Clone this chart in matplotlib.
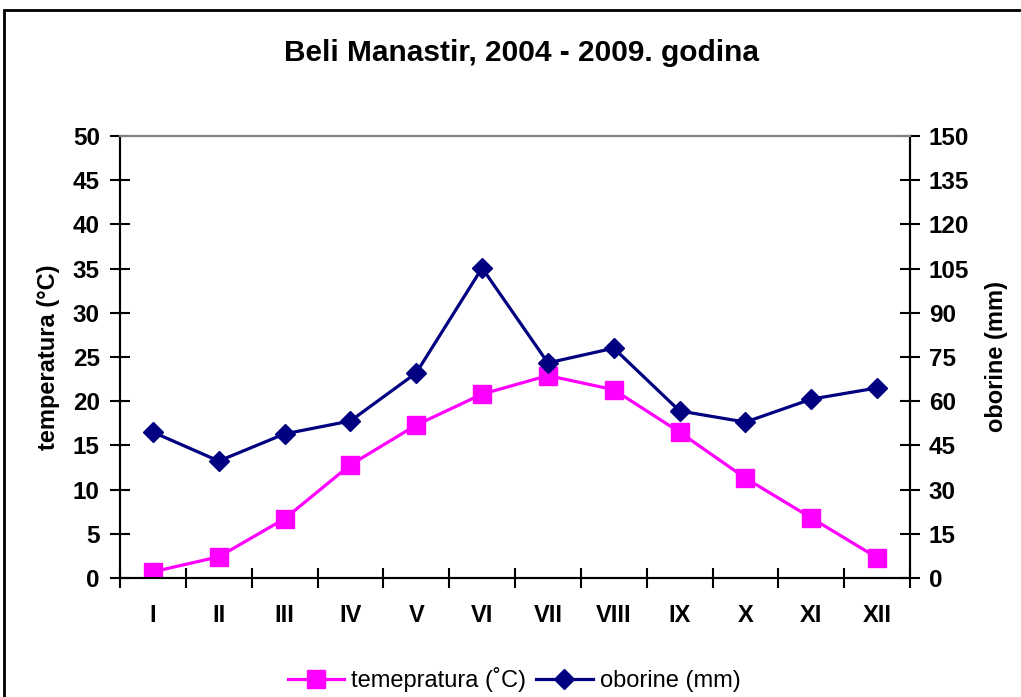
import numpy as np
import matplotlib.pyplot as plt
from matplotlib.patches import Rectangle

plt.rcParams['font.family'] = ['Liberation Sans', 'DejaVu Sans']

# data
months = ['I', 'II', 'III', 'IV', 'V', 'VI', 'VII', 'VIII', 'IX', 'X', 'XI', 'XII']
temperatura = [0.7, 2.4, 6.7, 12.8, 17.3, 20.8, 22.9, 21.3, 16.5, 11.3, 6.8, 2.3]
oborine = [49.5, 39.7, 48.9, 53.3, 69.6, 105.2, 73.0, 78.0, 56.7, 52.9, 60.7, 64.5]

pink = '#FF00FF'
navy = '#000080'

fig = plt.figure(figsize=(10.21, 6.97), dpi=100)
ax = fig.add_axes([120 / 1021, 1 - 578 / 697, 790 / 1021, 442 / 697])
ax2 = ax.twinx()

x = np.arange(len(months))
l1, = ax.plot(x, temperatura, color=pink, lw=2.3, marker='s', ms=13,
              label='temepratura (˚C)', zorder=3)
l2, = ax2.plot(x, oborine, color=navy, lw=2.3, marker='D', ms=10,
               label='oborine (mm)', zorder=3)

ax.set_xlim(-0.5, 11.5)
ax.set_ylim(0, 50)
ax2.set_ylim(0, 150)
ax.set_yticks(np.arange(0, 51, 5))
ax2.set_yticks(np.arange(0, 151, 15))

# month labels centred, tick marks between months
ax.set_xticks(x)
ax.set_xticklabels(months, fontsize=17, fontweight='bold')
ax.set_xticks(np.arange(-0.5, 12, 1), minor=True)
ax.tick_params(axis='x', which='major', length=0, pad=18.5)
ax.tick_params(axis='x', which='minor', direction='inout', length=14, width=1.5)

ax.tick_params(axis='y', direction='inout', length=14, width=1.5, labelsize=17.5, pad=7.5)
ax2.tick_params(axis='y', direction='inout', length=14, width=1.5, labelsize=17.5, pad=6.5)
for lab in ax.get_yticklabels() + ax2.get_yticklabels():
    lab.set_fontweight('bold')

ax.set_ylabel('temperatura (°C)', fontsize=17, fontweight='bold')
ax2.set_ylabel('oborine (mm)', fontsize=17, fontweight='bold')
ax.yaxis.set_label_coords((60 - 120) / 790, 0.5)
ax2.yaxis.set_label_coords((985 - 120) / 790, 0.5)

for a in (ax, ax2):
    a.spines['left'].set_linewidth(1.5)
    a.spines['right'].set_linewidth(1.5)
    a.spines['bottom'].set_linewidth(1.5)
    a.spines['top'].set_color('#808080')
    a.spines['top'].set_linewidth(1.5)

fig.text(521 / 1021, 1 - 53 / 697, 'Beli Manastir, 2004 - 2009. godina',
         ha='center', va='center', fontsize=21.5, fontweight='bold')

fig.legend(handles=[l1, l2], loc='center', bbox_to_anchor=(514 / 1021, 1 - 680 / 697),
           ncol=2, frameon=False, fontsize=17, handlelength=2.4, columnspacing=0.4,
           handletextpad=0.3)

# outer chart border
fig.patches.append(Rectangle((4 / 1021, -0.1), 1.1, 1.1 - 10 / 697,
                             transform=fig.transFigure, fill=False,
                             edgecolor='black', lw=2))

fig.savefig('out.png', dpi=100)
